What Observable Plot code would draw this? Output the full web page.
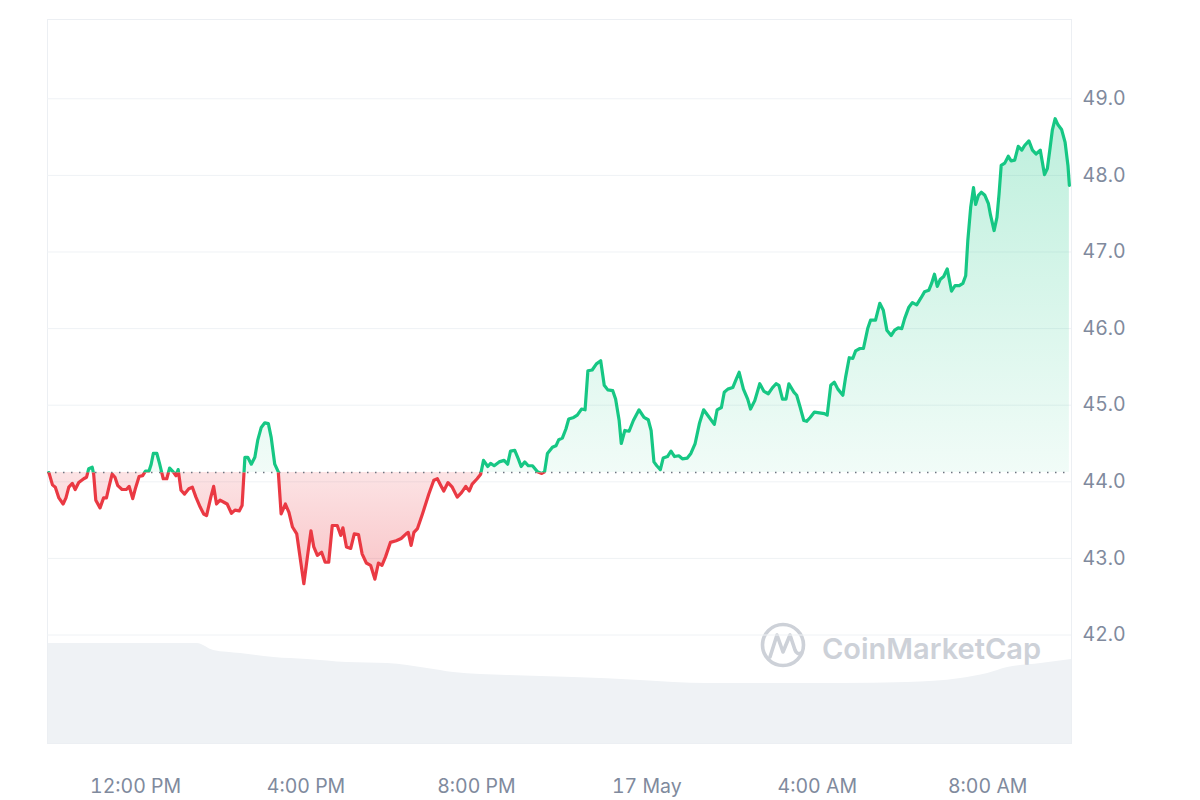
<!DOCTYPE html>
<html>
<head>
<meta charset="utf-8">
<script src="https://cdn.jsdelivr.net/npm/d3@7"></script>
<script src="https://cdn.jsdelivr.net/npm/@observablehq/plot@0.6"></script>
<style>
  html, body { margin: 0; padding: 0; background: #ffffff; }
  #wrap { position: relative; width: 1200px; height: 800px; overflow: hidden; font-family: Inter, "Noto Sans", sans-serif; }
  #wrap > svg { position: absolute; left: 0; top: 0; }
</style>
</head>
<body>
<div id="wrap"></div>
<script>
// ---- data ----
const startTime = new Date(2024, 4, 16, 9, 58); // first price sample
const xDomain = [new Date(2024, 4, 16, 9, 56), new Date(2024, 4, 17, 9, 58)];

// minutes after startTime
const priceMinutes = [0,5,9,14,20,24,28,33,37,42,49,53,56,61,63,66,72,77,81,85,89,93,97,103,109,113,118,122,127,132,136,141,144,147,152,156,161,166,170,175,179,182,186,191,197,202,207,213,218,222,228,232,236,241,247,251,257,262,268,272,276,280,285,290,294,299,304,309,313,318,323,327,333,338,343,349,359,364,369,373,378,384,389,394,399,406,411,414,419,425,430,436,441,447,453,459,464,469,474,481,489,496,503,506,510,514,519,526,535,542,547,552,556,562,568,575,581,587,592,596,603,608,612,618,622,627,634,641,646,650,656,661,665,670,675,681,688,694,698,702,709,714,718,723,728,732,739,744,750,755,759,765,771,777,782,787,794,798,803,806,811,817,823,831,838,844,848,852,856,861,865,871,876,881,887,892,899,904,910,916,922,930,937,941,947,951,956,963,967,972,978,984,988,994,1001,1007,1013,1019,1024,1028,1033,1038,1042,1049,1053,1058,1063,1067,1072,1078,1085,1092,1096,1101,1106,1111,1118,1122,1127,1132,1136,1142,1147,1153,1157,1164,1170,1175,1180,1186,1191,1196,1201,1205,1211,1216,1222,1228,1233,1239,1243,1247,1251,1255,1260,1265,1271,1276,1282,1287,1291,1294,1298,1302,1305,1309,1313,1318,1323,1326,1331,1335,1338,1341,1346,1351,1355,1360,1365,1370,1374,1380,1385,1390,1396,1402,1406,1410,1413,1417,1421,1426,1431,1435,1437];

const prices = [44.12,43.96,43.93,43.79,43.71,43.79,43.93,43.98,43.90,43.99,44.04,44.06,44.17,44.19,44.10,43.76,43.66,43.79,43.79,43.95,44.10,44.06,43.95,43.90,43.90,43.94,43.78,43.92,44.07,44.08,44.14,44.14,44.23,44.37,44.37,44.23,44.04,44.04,44.18,44.13,44.08,44.16,43.89,43.84,43.91,43.93,43.80,43.67,43.58,43.56,43.80,43.94,43.71,43.76,43.73,43.71,43.59,43.63,43.62,43.69,44.32,44.32,44.23,44.32,44.54,44.71,44.77,44.76,44.58,44.23,44.13,43.58,43.71,43.60,43.41,43.32,42.67,43.02,43.36,43.15,43.04,43.08,42.95,42.95,43.43,43.43,43.30,43.40,43.15,43.13,43.32,43.31,43.06,42.94,42.91,42.73,42.94,42.91,43.02,43.21,43.23,43.26,43.32,43.34,43.17,43.34,43.39,43.58,43.84,44.02,44.04,43.95,43.88,43.99,43.93,43.80,43.86,43.94,43.88,43.97,44.04,44.10,44.28,44.20,44.24,44.21,44.26,44.28,44.23,44.40,44.41,44.30,44.20,44.26,44.21,44.21,44.13,44.11,44.13,44.37,44.45,44.47,44.55,44.57,44.69,44.82,44.84,44.87,44.95,44.94,45.45,45.46,45.54,45.58,45.26,45.20,45.19,45.08,44.80,44.50,44.67,44.66,44.80,44.94,44.84,44.81,44.67,44.26,44.21,44.16,44.31,44.33,44.40,44.33,44.34,44.30,44.31,44.37,44.50,44.76,44.94,44.84,44.75,44.94,44.97,45.17,45.21,45.23,45.32,45.43,45.21,45.08,44.95,45.06,45.28,45.18,45.15,45.23,45.28,45.26,45.08,45.08,45.28,45.17,45.13,44.97,44.80,44.79,44.84,44.91,44.90,44.89,44.87,45.26,45.30,45.21,45.13,45.37,45.62,45.61,45.71,45.74,45.74,46.00,46.11,46.11,46.33,46.24,45.98,45.91,45.98,46.01,46.00,46.13,46.28,46.34,46.31,46.40,46.48,46.50,46.59,46.71,46.55,46.64,46.68,46.78,46.49,46.56,46.56,46.59,46.69,47.15,47.58,47.84,47.62,47.74,47.78,47.74,47.63,47.48,47.28,47.45,47.76,48.13,48.16,48.25,48.19,48.20,48.38,48.33,48.39,48.45,48.33,48.28,48.33,48.01,48.09,48.37,48.59,48.74,48.66,48.60,48.43,48.13,47.87];

// volume profile (relative units), minutes after startTime
const volumeMinutes = [-2,209,232,270,317,364,420,477,533,570,646,739,833,880,927,1021,1115,1209,1284,1322,1350,1397,1440];
const volumes = [100,100,93,90,86,84,81,80,75,71,68,66,63,61,60,60,60,61,65,70,76,80,84];

const yTicks = [42, 43, 44, 45, 46, 47, 48, 49];
const xTicks = [
  new Date(2024, 4, 16, 12), new Date(2024, 4, 16, 16), new Date(2024, 4, 16, 20),
  new Date(2024, 4, 17, 0), new Date(2024, 4, 17, 4), new Date(2024, 4, 17, 8)
];
const xTickLabels = ["12:00 PM", "4:00 PM", "8:00 PM", "17 May", "4:00 AM", "8:00 AM"];

// ---- build ----
const toDate = m => new Date(+startTime + m * 60000);
const data = priceMinutes.map((m, i) => ({date: toDate(m), price: prices[i]}));
const vol = volumeMinutes.map((m, i) => ({date: toDate(m), volume: volumes[i]}));
const base = prices[0];

const W = 1200, H = 800;
const margins = {marginLeft: 47, marginRight: 129, marginTop: 19, marginBottom: 57};
const wrap = document.getElementById("wrap");

// volume layer (own scale, bottom band)
const volChart = Plot.plot({
  width: W, height: H, ...margins,
  style: {background: "transparent"},
  x: {type: "time", domain: xDomain, axis: null},
  y: {domain: [0, 100], range: [743, 643], axis: null},
  marks: [
    Plot.areaY(vol, {x: "date", y: "volume", fill: "#eff2f5", curve: "monotone-x"}),
    Plot.frame({stroke: "#eceff3", strokeWidth: 1})
  ]
});
wrap.appendChild(volChart);

// watermark
const wm = d3.select(wrap).append("svg").attr("width", W).attr("height", H);
const wg = wm.append("g").attr("fill", "none").attr("stroke", "#cdd1d8");
wg.append("circle").attr("cx", 783).attr("cy", 645).attr("r", 20.5).attr("stroke-width", 3.6);
wg.append("path").attr("d", "M770,657 L777,635 L783,652 L790,635 L795,650 Q797,655 801,653")
  .attr("stroke-width", 3.6).attr("stroke-linejoin", "round").attr("stroke-linecap", "round");
wm.append("text").attr("x", 822).attr("y", 659).attr("fill", "#cdd1d8")
  .attr("font-family", "Inter, 'Noto Sans', sans-serif").attr("font-weight", 600).attr("font-size", 29)
  .text("CoinMarketCap");

// price layer
const chart = Plot.plot({
  width: W, height: H, ...margins,
  style: {background: "transparent", fontFamily: "Inter, 'Noto Sans', sans-serif", fontSize: "19.5px", color: "#808a9d"},
  x: {type: "time", domain: xDomain, ticks: xTicks, tickSize: 0, tickPadding: 36, label: null,
      tickFormat: d => xTickLabels[xTicks.findIndex(t => +t === +d)]},
  y: {domain: [40.584, 50.035], ticks: yTicks, tickFormat: d3.format(".1f"), tickSize: 0, tickPadding: 11,
      axis: "right", label: null},
  marks: [
    Plot.ruleY(yTicks, {stroke: "#eff2f5", strokeWidth: 1}),
    Plot.areaY(data, {x: "date", y1: base, y2: "price", fill: "url(#gradUp)"}),
    Plot.areaY(data, {x: "date", y1: base, y2: "price", fill: "url(#gradDown)"}),
    Plot.ruleY([base], {stroke: "#6f7682", strokeWidth: 1.5, strokeDasharray: "1.5 6.5"}),
    Plot.line(data, {x: "date", y: "price", stroke: "#16c784", strokeWidth: 3.2, strokeLinejoin: "round", strokeLinecap: "round"}),
    Plot.line(data, {x: "date", y: "price", stroke: "#ea3943", strokeWidth: 3.2, strokeLinejoin: "round", strokeLinecap: "round"})
  ]
});
wrap.appendChild(chart);

// clip green above / red below the opening price, gradients via the y scale
const ys = chart.scale("y");
const by = ys.apply(base);
const svg = d3.select(chart);
const defs = svg.insert("defs", ":first-child");
defs.append("clipPath").attr("id", "clipUp").append("rect")
  .attr("x", 0).attr("y", 0).attr("width", W).attr("height", by);
defs.append("clipPath").attr("id", "clipDown").append("rect")
  .attr("x", 0).attr("y", by).attr("width", W).attr("height", H - by);
const gu = defs.append("linearGradient").attr("id", "gradUp").attr("gradientUnits", "userSpaceOnUse")
  .attr("x1", 0).attr("x2", 0).attr("y1", ys.apply(d3.max(prices))).attr("y2", by);
gu.append("stop").attr("offset", 0).attr("stop-color", "#16c784").attr("stop-opacity", 0.28);
gu.append("stop").attr("offset", 1).attr("stop-color", "#16c784").attr("stop-opacity", 0.06);
const gd = defs.append("linearGradient").attr("id", "gradDown").attr("gradientUnits", "userSpaceOnUse")
  .attr("x1", 0).attr("x2", 0).attr("y1", by).attr("y2", ys.apply(d3.min(prices)));
gd.append("stop").attr("offset", 0).attr("stop-color", "#ea3943").attr("stop-opacity", 0.14);
gd.append("stop").attr("offset", 1).attr("stop-color", "#ea3943").attr("stop-opacity", 0.3);

const areas = svg.selectAll('g[aria-label="area"]').nodes();
d3.select(areas[0]).attr("clip-path", "url(#clipUp)");
d3.select(areas[1]).attr("clip-path", "url(#clipDown)");
const lines = svg.selectAll('g[aria-label="line"]').nodes();
d3.select(lines[0]).attr("clip-path", "url(#clipUp)");
d3.select(lines[1]).attr("clip-path", "url(#clipDown)");
</script>
</body>
</html>
